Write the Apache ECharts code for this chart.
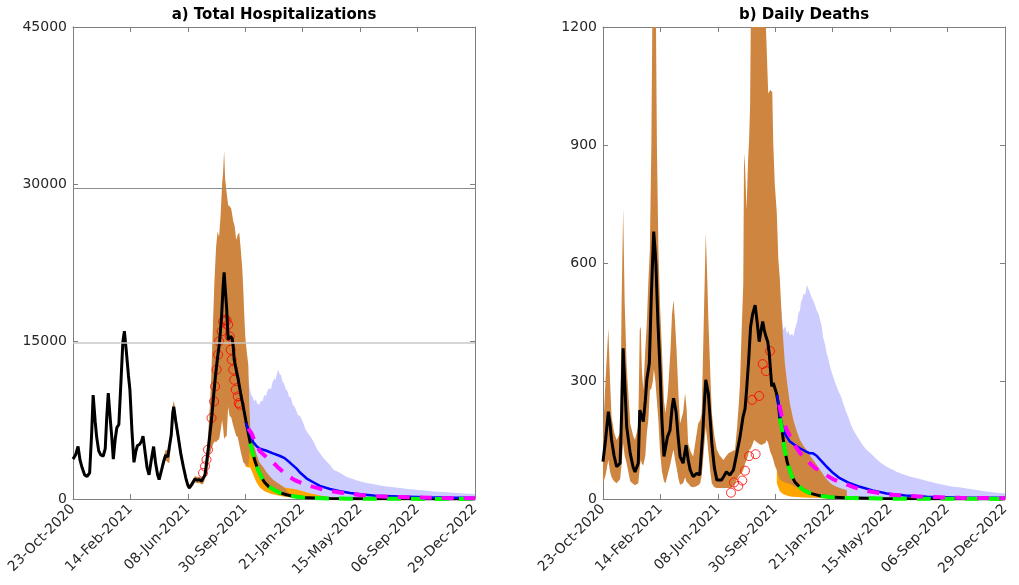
<!DOCTYPE html>
<html>
<head>
<meta charset="utf-8">
<script src="https://cdn.jsdelivr.net/npm/echarts@6/dist/echarts.min.js"></script>
<style>html,body{margin:0;padding:0;background:#fff}#c{width:1019px;height:585px}</style>
</head>
<body>
<div id="c"></div>
<script>
// ---------- x axis (days since 23-Oct-2020) ----------
const tickLabels = ['23-Oct-2020','14-Feb-2021','08-Jun-2021','30-Sep-2021','21-Jan-2022','15-May-2022','06-Sep-2022','29-Dec-2022'];
const tickStep = 114;
const forecastStart = 350;

// ---------- a) Total Hospitalizations ----------
const hospFit = [[0,3800],[5,4200],[10,5000],[14,3700],[18,3000],[23,2300],[28,2150],[33,2500],[37,6200],[40,9900],[44,7400],[47,5900],[51,4600],[55,4200],[60,4100],[64,4800],[67,7800],[70,10100],[74,7600],[77,5900],[80,3800],[84,5800],[87,6800],[91,7100],[95,11000],[99,15000],[102,16000],[106,14000],[110,11800],[113,10400],[117,6500],[121,3500],[125,4600],[128,5100],[132,5200],[136,5500],[139,6000],[143,4500],[147,3000],[151,2300],[155,3600],[160,5000],[164,3400],[168,2300],[171,1850],[176,2800],[180,3600],[184,4200],[188,4000],[191,3900],[195,6100],[198,8200],[200,8800],[204,7400],[209,5900],[214,4300],[219,3100],[224,2000],[228,1300],[231,1050],[236,1400],[242,1900],[247,1800],[251,1850],[255,1700],[258,1680],[262,2300],[265,3400],[270,5400],[275,7600],[279,9800],[283,11800],[287,13500],[291,15000],[295,17400],[298,20300],[300,21600],[302,20200],[305,18200],[308,15200],[311,15100],[313,15500],[316,15300],[318,14600],[320,13300],[324,12300],[328,11400],[333,10000],[338,8800],[343,7500],[348,6300],[352,5300],[357,4300],[362,3500],[368,2700],[374,2100],[380,1600],[388,1200],[398,900],[410,600],[424,400],[437,260],[457,150],[480,90],[510,50],[560,30],[640,15],[720,8],[798,5]];
const hospBlue = [[343,7250],[348,6600],[351,6300],[358,5400],[365,5000],[371,4800],[384,4600],[397,4350],[411,4100],[420,3900],[431,3450],[444,2900],[450,2550],[464,1950],[477,1600],[490,1250],[510,950],[530,740],[550,570],[570,450],[600,320],[649,230],[700,170],[750,135],[798,110]];
const hospMagenta = [[348,6700],[355,6200],[362,5300],[371,4550],[384,4000],[391,3800],[405,3100],[424,2300],[440,1800],[460,1400],[477,1150],[500,850],[536,570],[570,380],[603,260],[640,190],[675,150],[720,110],[760,80],[798,60]];
const hospObs = [[258,2480],[262,3110],[265,3750],[268,4700],[275,7720],[280,9300],[282,10740],[285,12330],[288,13760],[290,15030],[295,15980],[298,16930],[302,17090],[305,17030],[308,16620],[311,15500],[313,14230],[315,13280],[318,12330],[320,11370],[323,10420],[327,9780],[329,9150],[331,8990]];
// bands: [day, low, high]
const hospBrown = [[180,3100,4000],[184,3700,4700],[188,3500,4600],[191,3400,4500],[195,5400,6800],[198,7400,8900],[200,8000,9400],[204,6600,8200],[209,5200,6700],[214,3800,5000],[219,2700,3600],[224,1700,2400],[228,1100,1600],[231,900,1350],[236,1200,1700],[242,1600,2200],[247,1500,2100],[251,1550,2150],[255,1400,2000],[258,1400,2000],[262,1900,2800],[266,2600,4600],[270,3800,7500],[274,4700,11000],[278,5200,17000],[281,5500,21000],[284,5400,24000],[287,5600,25500],[290,5700,25000],[293,6500,27000],[296,7500,30000],[298,6800,31200],[300,5700,33200],[302,5900,30500],[305,6000,29200],[308,8800,28000],[311,7900,27900],[314,7800,27700],[318,7000,26500],[321,6500,26000],[324,6000,24700],[327,5900,25200],[330,5200,25400],[333,4500,23800],[336,3900,22000],[338,3500,20000],[340,3400,17500],[342,3300,15500],[345,3250,14000],[348,3100,12800],[350,4200,9000],[352,5000,6800],[355,4600,6300],[360,3800,5000],[364,3300,4300],[370,2500,3500],[378,1900,3000],[385,1400,2500],[392,1100,2100],[398,900,1800],[407,700,1500],[417,450,1200],[423,380,900],[428,350,500]];
const hospOrange = [[342,3100,5000],[348,3000,5600],[352,3000,5200],[358,2300,4300],[364,1600,3400],[371,1100,2700],[380,750,2100],[390,550,1650],[398,420,1400],[410,300,1200],[420,220,1100],[432,160,1000],[444,110,900],[460,80,700],[472,60,520],[484,50,400],[500,40,250],[520,30,110],[540,20,40]];
const hospLavender = [[344,7300,12500],[347,6600,11800],[351,5300,10500],[354,4700,9900],[357,4200,9700],[360,3800,9300],[363,3400,9500],[366,3100,9050],[370,2700,9000],[373,2450,9400],[376,2250,9300],[380,2000,9950],[383,1800,9800],[386,1650,10300],[390,1450,10580],[393,1300,10450],[396,1200,11100],[400,1050,11540],[402,1000,11300],[405,920,12000],[408,850,12330],[410,800,11900],[413,720,11800],[416,650,11210],[419,600,11000],[422,540,10500],[426,480,10260],[429,440,9700],[432,400,9750],[436,350,9000],[441,310,8700],[446,280,8040],[451,250,7900],[456,220,7400],[461,200,6700],[466,180,6290],[472,150,5900],[478,130,5400],[484,115,4800],[490,100,4390],[497,85,3900],[505,75,3500],[511,68,3200],[517,60,2800],[526,52,2600],[535,45,2350],[543,42,2100],[550,40,2000],[565,35,1750],[583,30,1525],[598,28,1400],[615,25,1250],[632,22,1150],[649,20,1050],[665,17,950],[680,15,870],[698,12,800],[715,10,725],[735,8,660],[755,7,600],[777,6,530],[798,5,470]];
const hospRefLines = [14900, 29650];

// ---------- b) Daily Deaths ----------
const deathFit = [[0,95],[5,150],[10.6,222],[14,190],[17,150],[22,110],[27,82],[34,91],[37,220],[40,383],[43,300],[47,184],[54,116],[60,80],[63.5,69],[70,91],[73,226],[77,210],[80,197],[84,250],[87,303],[92,345],[96,520],[100.6,680],[103,640],[105,599],[109,450],[113,336],[117,200],[121,108],[128,158],[133,175],[137,230],[140,256],[145,222],[149,160],[153,108],[159,91],[165,137],[169,100],[173,74],[179,57],[186,65],[192,61],[198,167],[201,240],[204,303],[209,269],[213,200],[216,142],[221,80],[226,48],[235,48],[240,58],[245,69],[252,61],[259,74],[265,112],[272,158],[278,209],[282,230],[285,277],[289,350],[293,438],[297,470],[302,493],[306,450],[310,400],[314,430],[317,451],[320,430],[323.5,413],[327,400],[330,370],[333,320],[335,286],[338,295],[341,290],[344,270],[348,243],[351,205],[355,180],[358,150],[361,122],[366,92],[371,72],[375,57],[381,43],[391,30],[398,23],[410,15],[431,8],[450,5],[480,3],[550,1],[650,0.5],[798,0.3]];
const deathBlue = [[346,265],[348,243],[351,215],[355,190],[358,175],[364,160],[371,146],[380,138],[391,129],[401,122],[411,116],[417,116],[424,110],[431,100],[437,92],[444,82],[457,66],[470,53],[490,40],[510,31],[535,22],[563,14],[600,9],[643,6],[700,4],[798,3]];
const deathMagenta = [[350,240],[355,209],[365,175],[378,142],[391,117],[407,95],[420,80],[437,65],[457,50],[477,40],[500,29],[530,19],[565,12],[603,8],[650,5],[709,3],[798,2]];
const deathObs = [[254,16],[260,42],[268.6,33],[276.5,47],[282,72],[290,109],[296,252],[303,114],[310,262],[317,343],[323.5,325],[331.5,376]];
const deathBrown = [[0,40,167],[5,60,300],[10.6,99,434],[14,70,300],[17,55,209],[22,45,170],[27,40,150],[34,50,167],[37,90,500],[40,142,739],[43,110,500],[47,90,336],[54,45,192],[60,38,160],[63.5,35,150],[70,40,184],[73,80,430],[75,100,438],[77,90,330],[80,85,277],[84,110,380],[87,167,447],[90,200,550],[93,277,633],[96,280,900],[99,300,1400],[101,330,1500],[104,300,1400],[107,250,900],[110,200,633],[113,125,500],[117,70,379],[121,45,250],[124,40,218],[128,60,260],[130,70,294],[134,90,380],[137,110,470],[140,125,506],[143,100,450],[146,80,379],[150,50,260],[153,36,192],[159,40,220],[163,55,269],[166,43,230],[169,40,142],[174,32,120],[179,30,108],[184,32,150],[189,35,192],[193,40,200],[196,60,218],[200,120,450],[204,184,676],[207,150,560],[209,120,463],[213,70,320],[216,40,218],[221,30,160],[226,28,125],[232,28,110],[239,28,99],[245,28,110],[249,28,116],[255,28,120],[262,40,125],[266,50,180],[270,60,250],[272,62,294],[275,65,420],[278.5,74,549],[280,80,879],[282,90,845],[285,100,735],[288,110,862],[290,125,913],[292,125,1000],[294,130,1300],[297,140,1500],[300,150,1500],[305,145,1500],[310,140,1500],[315,137,1500],[318,140,1400],[322,142,1250],[325,150,1141],[328,142,1031],[332,120,1040],[336,108,1035],[338,100,904],[341,85,800],[345,74,727],[348,60,610],[351,50,560],[355,46,455],[358,44,400],[361,42,345],[366,40,290],[371,38,243],[378,34,200],[384,30,175],[391,27,150],[398,24,135],[404,20,125],[411,17,110],[420,14,95],[431,11,74],[441,8,55],[450,6,42],[457,5,35],[470,4,28],[484,3,22]];
const deathOrange = [[345,40,80],[351,20,60],[358,12,50],[366,8,45],[375,6,40],[385,5,36],[398,4,32],[411,3,26],[424,3,22],[437,2,18],[450,2,14],[465,1,10],[480,1,6],[495,0,3]];
const deathLavender = [[344,270,560],[348,243,545],[351,205,514],[355,180,470],[358,150,430],[362,115,440],[365,95,420],[368,82,428],[371,72,415],[375,60,420],[378,50,413],[381,44,432],[383,40,440],[386,36,455],[388,34,472],[391,32,480],[393,30,500],[396,28,510],[398,26,523],[401,24,518],[403,22,530],[405,20,545],[407,19,536],[410,17,528],[412,16,520],[415,14,510],[417,13,506],[421,12,492],[424,11,480],[428,10,470],[431,9,455],[434,9,440],[437,8,410],[441,7,392],[444,7,370],[447,6,358],[450,6,340],[454,5,322],[457,5,311],[462,4,292],[467,4,275],[472,4,262],[477,3,243],[482,3,224],[487,3,208],[492,2,190],[497,2,175],[503,2,162],[510,2,148],[516,2,136],[523,2,125],[531,1,116],[540,1,105],[551,1,92],[563,1,82],[574,1,75],[585,1,68],[597,1,62],[609,1,57],[625,1,52],[640,1,47],[657,1,41],[675,1,36],[692,1,32],[710,1,29],[726,0,26],[742,0,23],[756,0,20],[770,0,18],[784,0,16],[798,0,14]];

// ---------- styling ----------
const FONT = 'DejaVu Sans';
const AXIS_GRAY = '#7f7f7f';
const TXT = '#262626';
const C_BROWN = '#CD853F', C_ORANGE = '#FFA500', C_LAV = '#CCCCFF';

const panels = [
  {title:'a) Total Hospitalizations', left:73, yMax:45000, yStep:15000,
   fit:hospFit, blue:hospBlue, mag:hospMagenta, obs:hospObs, brown:hospBrown, orange:hospOrange, lav:hospLavender, refs:hospRefLines},
  {title:'b) Daily Deaths', left:603, yMax:1200, yStep:300,
   fit:deathFit, blue:deathBlue, mag:deathMagenta, obs:deathObs, brown:deathBrown, orange:deathOrange, lav:deathLavender, refs:[]}
];

const grid = [], xAxis = [], yAxis = [], series = [], title = [];
panels.forEach((p, gi) => {
  grid.push({left:p.left, top:27, width:402, height:472, show:false});
  const xBase = {type:'value', gridIndex:gi, min:0, max:tickStep*7, interval:tickStep,
    axisLine:{show:true, onZero:false, lineStyle:{color:AXIS_GRAY, width:1}},
    axisTick:{show:true, inside:true, length:5, lineStyle:{color:AXIS_GRAY}},
    splitLine:{show:false}};
  xAxis.push(Object.assign({}, xBase, {position:'bottom',
    axisLabel:{show:true, rotate:45, margin:8, fontSize:14, fontFamily:FONT, color:TXT,
      formatter: v => tickLabels[Math.round(v / tickStep)]}}));
  xAxis.push(Object.assign({}, xBase, {position:'top', axisLabel:{show:false}}));
  const yBase = {type:'value', gridIndex:gi, min:0, max:p.yMax, interval:p.yStep,
    axisLine:{show:true, onZero:false, lineStyle:{color:AXIS_GRAY, width:1}},
    axisTick:{show:true, inside:true, length:5, lineStyle:{color:AXIS_GRAY}},
    splitLine:{show:false}};
  yAxis.push(Object.assign({}, yBase, {position:'left',
    axisLabel:{show:true, margin:6, fontSize:14, fontFamily:FONT, color:TXT, formatter: v => String(v)}}));
  yAxis.push(Object.assign({}, yBase, {position:'right', axisLabel:{show:false}}));

  const xi = gi*2, yi = gi*2;
  title.push({text:p.title, left:p.left+201, top:8, textAlign:'center', padding:0,
    textStyle:{fontFamily:FONT, fontWeight:'bold', fontSize:15, color:'#000'}});

  // filled band between low and high, through the axis scales (api.coord)
  const band = (arr, color) => {
    series.push({type:'custom', xAxisIndex:xi, yAxisIndex:yi, silent:true, clip:true,
      data:[[arr[0][0], arr[0][1]]],
      renderItem: (params, api) => {
        const pts = [];
        for (let i = 0; i < arr.length; i++) pts.push(api.coord([arr[i][0], arr[i][2]]));
        for (let i = arr.length - 1; i >= 0; i--) pts.push(api.coord([arr[i][0], arr[i][1]]));
        return {type:'polygon', shape:{points:pts}, style:{fill:color, stroke:null}};
      }});
  };
  band(p.lav, C_LAV);
  band(p.orange, C_ORANGE);
  band(p.brown, C_BROWN);

  if (p.refs.length) {
    series.push({type:'line', xAxisIndex:xi, yAxisIndex:yi, data:[], silent:true,
      markLine:{silent:true, symbol:['none','none'], label:{show:false}, animation:false,
        data:[{yAxis:p.refs[0], lineStyle:{color:'#c8c8c8', width:1.5, type:'solid'}},
              {yAxis:p.refs[1], lineStyle:{color:'#8c8c8c', width:1.2, type:'solid'}}]}});
  }
  series.push({type:'line', xAxisIndex:xi, yAxisIndex:yi, data:p.fit, symbol:'none', silent:true,
    lineStyle:{color:'#000', width:3}});
  series.push({type:'line', xAxisIndex:xi, yAxisIndex:yi, data:p.blue, symbol:'none', silent:true,
    lineStyle:{color:'#0000ff', width:2.5}});
  series.push({type:'line', xAxisIndex:xi, yAxisIndex:yi, data:p.fit.filter(d => d[0] >= forecastStart),
    symbol:'none', silent:true, lineStyle:{color:'#00ff00', width:4, type:[14,10]}});
  series.push({type:'line', xAxisIndex:xi, yAxisIndex:yi, data:p.mag, symbol:'none', silent:true,
    lineStyle:{color:'#ff00ff', width:4, type:[12,10]}});
  series.push({type:'scatter', xAxisIndex:xi, yAxisIndex:yi, data:p.obs, symbol:'circle', symbolSize:9, silent:true,
    itemStyle:{color:'rgba(0,0,0,0)', borderColor:'#ff0000', borderWidth:1}});
});

const chart = echarts.init(document.getElementById('c'), null, {renderer:'canvas'});
chart.setOption({animation:false, backgroundColor:'#fff', title, grid, xAxis, yAxis, series});
</script>
</body>
</html>
